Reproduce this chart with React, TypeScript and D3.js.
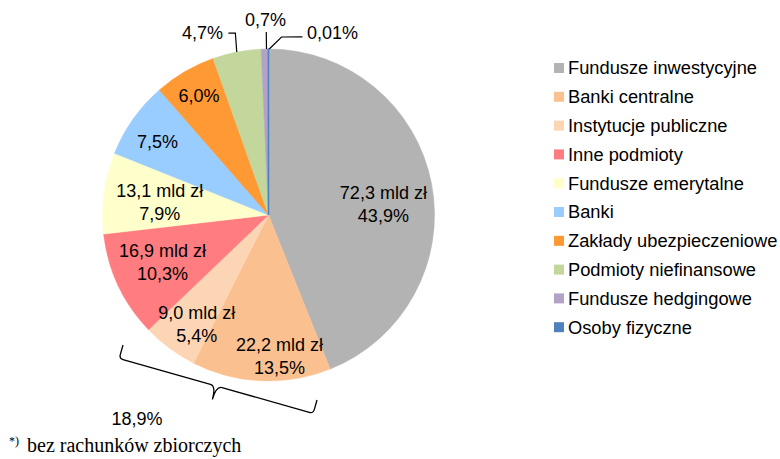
import React from "react";
import * as d3 from "d3";

const categories = [
  "Fundusze inwestycyjne",
  "Banki centralne",
  "Instytucje publiczne",
  "Inne podmioty",
  "Fundusze emerytalne",
  "Banki",
  "Zakłady ubezpieczeniowe",
  "Podmioty niefinansowe",
  "Fundusze hedgingowe",
  "Osoby fizyczne",
];
const shares = [43.9, 13.5, 5.4, 10.3, 7.9, 7.5, 6.0, 4.7, 0.7, 0.01];
const amounts: (number | null)[] = [72.3, 22.2, 9.0, 16.9, 13.1, null, null, null, null, null];
const colors = [
  "#B3B3B3",
  "#FAC090",
  "#FCD5B5",
  "#FF7C80",
  "#FFFFCC",
  "#99CCFF",
  "#FF9933",
  "#C3D69B",
  "#B3A2C7",
  "#4F81BD",
];
// label placement: radius factor and angle shift (deg) from slice mid-angle
const labelRadius = [0.695, 0.852, 0.787, 0.7, 0.66, 0.8, 0.83, 1.166, 1.175, 1.163];
const labelShift = [5.7, -7, -3.2, 1, -0.7, -2, 0, -8.9, 0.4, 19.4];
// leader lines: [radius factor, angle shift] points
const leaders: [number, number][][] = [
  [], [], [], [], [], [], [],
  [[1, 0], [1.114, 0.7], [1.122, -1.4]],
  [[1, 0.6], [1.102, 0.6]],
  [[1, 0.3], [1.075, 4.2], [1.092, 10.8]],
];
const bracketGroup = [1, 2]; // slices summed under the brace
const footnote = "bez rachunków zbiorczych";

const W = 780;
const H = 459;
const cx = 268.5;
const cy = 215;
const R = 166;
const FONT = "'Liberation Sans', Arial, sans-serif";

const fmtNum = (v: number, p: number) => d3.format(`.${p}f`)(v).replace(".", ",");
const fmtPct = (v: number) => fmtNum(v, v < 0.1 ? 2 : 1) + "%";

function polar(rf: number, angleRad: number): [number, number] {
  return [cx + rf * R * Math.sin(angleRad), cy - rf * R * Math.cos(angleRad)];
}

export default function App() {
  const pie = d3.pie<number>().sort(null).value((d) => d).startAngle(0).endAngle(2 * Math.PI);
  const arcs = pie(shares);
  const arcGen = d3.arc<d3.PieArcDatum<number>>().innerRadius(0).outerRadius(R);
  const toRad = (deg: number) => (deg * Math.PI) / 180;

  // brace
  const p1: [number, number] = [cx - 145.5, cy + 130];
  const p2: [number, number] = [cx + 48.5, cy + 185];
  const dx = p2[0] - p1[0];
  const dy = p2[1] - p1[1];
  const len = Math.hypot(dx, dy);
  const u = [dx / len, dy / len];
  const n = [-u[1], u[0]];
  const d = 14;
  const add = (p: number[], v: number[], k: number) => [p[0] + v[0] * k, p[1] + v[1] * k];
  const b = add(p1, n, d);
  const m = [(p1[0] + p2[0]) / 2, (p1[1] + p2[1]) / 2];
  const c = add(m, n, d);
  const t = add(m, n, 2 * d);
  const e = add(p2, n, d);
  const pt = (p: number[]) => `${p[0].toFixed(1)},${p[1].toFixed(1)}`;
  const braceD = [
    `M${pt(p1)}`,
    `L${pt(add(b, n, -4))}`,
    `Q${pt(b)} ${pt(add(b, u, 4))}`,
    `L${pt(add(c, u, -6))}`,
    `Q${pt(c)} ${pt(t)}`,
    `Q${pt(c)} ${pt(add(c, u, 6))}`,
    `L${pt(add(e, u, -4))}`,
    `Q${pt(e)} ${pt(add(e, n, -4))}`,
    `L${pt(p2)}`,
  ].join(" ");
  const braceSum = bracketGroup.reduce((s, i) => s + shares[i], 0);
  const braceLabel = add(t, n, 20);

  return (
    <svg
      width={W}
      height={H}
      style={{ position: "absolute", left: 0, top: 0, background: "#fff" }}
      fontFamily={FONT}
    >
      <rect width={W} height={H} fill="#fff" />
      <g transform={`translate(${cx},${cy})`}>
        {arcs.map((a, i) => (
          <path
            key={categories[i]}
            d={arcGen(a) || ""}
            fill={colors[i]}
            stroke={colors[i]}
            strokeWidth={i === arcs.length - 1 ? 1.5 : 0.5}
          />
        ))}
      </g>
      <g>
        {arcs.map((a, i) => {
          const mid = (a.startAngle + a.endAngle) / 2;
          const [x, y] = polar(labelRadius[i], mid + toRad(labelShift[i]));
          const lines = amounts[i] != null ? [fmtNum(amounts[i] as number, 1) + " mld zł", fmtPct(shares[i])] : [fmtPct(shares[i])];
          const lh = 23;
          const y0 = y - ((lines.length - 1) * lh) / 2;
          return (
            <text key={i} x={x} textAnchor="middle" fontSize={18} fill="#000">
              {lines.map((l, j) => (
                <tspan key={j} x={x} y={y0 + j * lh} dy="0.35em">
                  {l}
                </tspan>
              ))}
            </text>
          );
        })}
      </g>
      <g fill="none" stroke="#000" strokeWidth={1.2}>
        {arcs.map((a, i) => {
          if (!leaders[i].length) return null;
          const mid = (a.startAngle + a.endAngle) / 2;
          const pts = leaders[i].map(([rf, sh]) => polar(rf, mid + toRad(sh)));
          return <path key={i} d={d3.line()(pts) || ""} />;
        })}
      </g>
      <path d={braceD} fill="none" stroke="#000" strokeWidth={1.3} />
      <text x={braceLabel[0] - 70} y={braceLabel[1]} dy="0.35em" textAnchor="middle" fontSize={18}>
        {fmtPct(braceSum)}
      </text>
      <g>
        {categories.map((cat, i) => {
          const y = 68 + i * 28.8;
          return (
            <g key={cat}>
              <rect x={554} y={y - 5} width={10} height={10} fill={colors[i]} />
              <text x={568} y={y} dy="0.35em" fontSize={18.3} fill="#000">
                {cat}
              </text>
            </g>
          );
        })}
      </g>
      <text x={9} y={452} fontFamily="'Liberation Serif', 'Times New Roman', serif" fontSize={20} fill="#000">
        <tspan fontSize={12} dy={-7}>*)</tspan>
        <tspan x={27} dy={7}>{footnote}</tspan>
      </text>
    </svg>
  );
}
